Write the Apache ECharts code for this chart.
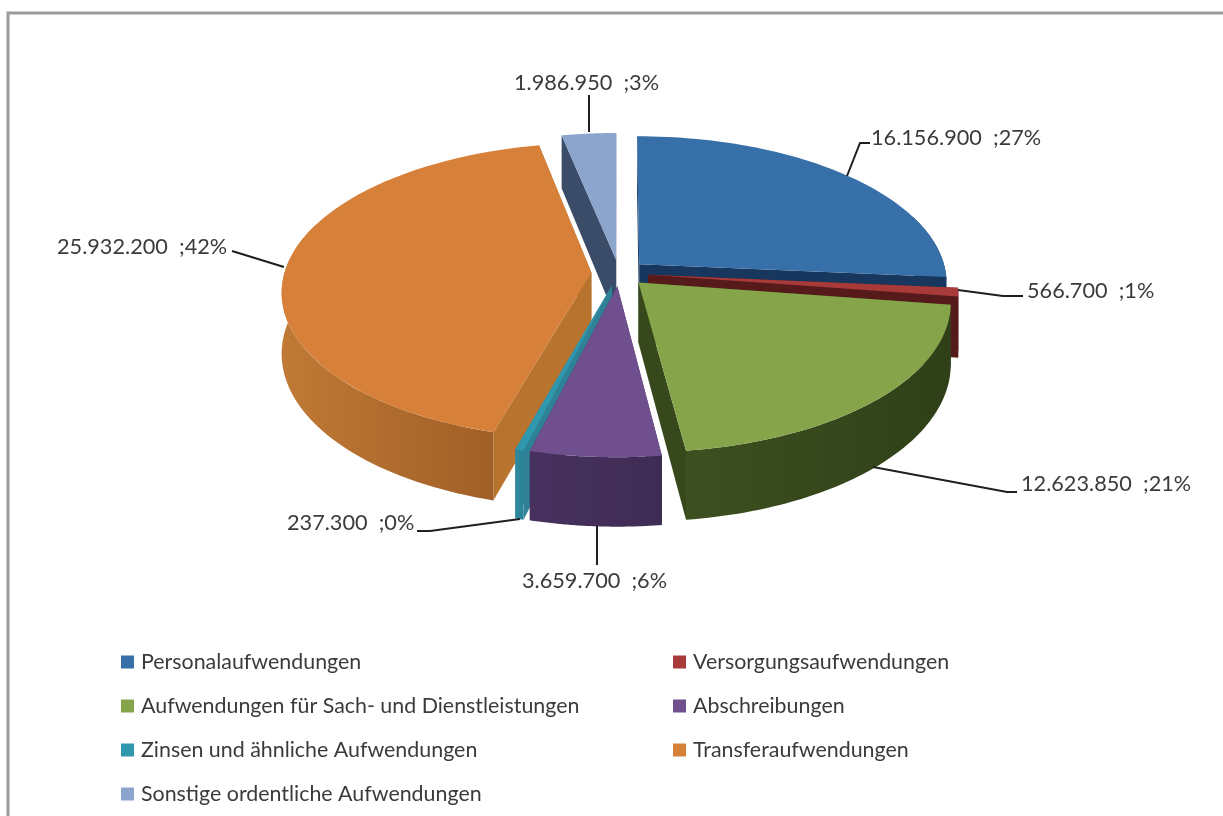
<!DOCTYPE html>
<html>
<head>
<meta charset="utf-8">
<title>Aufwendungen</title>
<style>
html, body { margin: 0; padding: 0; background: #fff; }
#main { width: 1223px; height: 816px; }
</style>
<script src="https://cdn.jsdelivr.net/npm/echarts@6/dist/echarts.min.js"></script>
</head>
<body>
<div id="main"></div>
<script>
// daten
var categories = ['Personalaufwendungen', 'Versorgungsaufwendungen', 'Aufwendungen für Sach- und Dienstleistungen',
  'Abschreibungen', 'Zinsen und ähnliche Aufwendungen', 'Transferaufwendungen', 'Sonstige ordentliche Aufwendungen'];
var values = [16156900, 566700, 12623850, 3659700, 237300, 25932200, 1986950];
var percents = [27, 1, 21, 6, 0, 42, 3];
var valueLabels = ['16.156.900', '566.700', '12.623.850', '3.659.700', '237.300', '25.932.200', '1.986.950'];

// farben: deckel, wand (links, rechts), seitenwand
var topColors = ['#376fa8', '#a83b39', '#86a54a', '#6f4f8e', '#2f97ae', '#d6803a', '#8ba5cd'];
var rimLeft = ['#17375e', '#5a1a1c', '#3d5020', '#47315f', '#2f8a9e', '#c07a36', '#364966'];
var rimRight = ['#17375e', '#5a1a1c', '#2f4018', '#3f2c55', '#2a8296', '#a05f26', '#364966'];
var sideColors = ['#17375e', '#561a1b', '#37491c', '#3f2c55', '#2f8196', '#b8732f', '#3a4c68'];

// perspektive der torte
var cx = 619, cy = 273, R0 = 307, Y0 = 146, D0 = 60, K = 0.125;
var explode = [0.09, 0.095, 0.09, 0.09, 0.09, 0.09, 0.09];
// zeichenreihenfolge von hinten nach vorne
var drawOrder = [6, 0, 1, 2, 5, 4, 3];

// beschriftung: text und fuehrungslinie
var labelPos = [[871, 138, 'left'], [1027, 291, 'left'], [1021, 484, 'left'], [522, 581, 'left'], [287, 523, 'left'], [57, 247, 'left'], [514, 83, 'left']];
var leaderLines = [
  [[847, 176], [860, 143], [870, 143]],
  [[958, 290], [1003, 296], [1023, 296]],
  [[873, 467], [1007, 492], [1017, 492]],
  [[597, 526], [597, 565]],
  [[520, 519], [430, 531], [417, 531]],
  [[284, 267], [232, 251]],
  [[589, 132], [589, 95]]
];

var total = values.reduce(function (a, b) { return a + b; }, 0);
var startAngles = [];
var sum = 0;
values.forEach(function (v) {
  startAngles.push(sum / total * Math.PI * 2);
  sum += v;
});

function project(a, b, h) {
  var s = 1 / (1 - K * b);
  return [cx + R0 * a * s, cy + Y0 * b * s + h * D0 * s];
}

function arcPoints(idx, from, to, h) {
  var pts = [];
  var mid = startAngles[idx] + values[idx] / total * Math.PI;
  var e = explode[idx];
  var n = 60;
  for (var i = 0; i <= n; i++) {
    var t = from + (to - from) * i / n;
    pts.push(project(e * Math.sin(mid) + Math.sin(t), -e * Math.cos(mid) - Math.cos(t), h));
  }
  return pts;
}

function apex(idx, h) {
  var mid = startAngles[idx] + values[idx] / total * Math.PI;
  return project(explode[idx] * Math.sin(mid), -explode[idx] * Math.cos(mid), h);
}

function sideWall(idx, angle) {
  var top = arcPoints(idx, angle, angle, 0)[0];
  var bottom = arcPoints(idx, angle, angle, 1)[0];
  return {
    type: 'polygon',
    shape: { points: [apex(idx, 0), top, bottom, apex(idx, 1)] },
    style: { fill: sideColors[idx] }
  };
}

function renderSlice(idx) {
  return function (params, api) {
    var from = startAngles[idx];
    var to = from + api.value(0) / total * Math.PI * 2;
    var children = [sideWall(idx, to), sideWall(idx, from)];

    // aussenwand nur im vorderen teil, etwas ueber die seiten hinaus wegen der perspektive
    var rimFrom = Math.max(from, Math.PI / 2 - 0.35);
    var rimTo = Math.min(to, Math.PI * 1.5 + 0.35);
    if (rimTo > rimFrom) {
      var upper = arcPoints(idx, rimFrom, rimTo, 0);
      var lower = arcPoints(idx, rimFrom, rimTo, 1).reverse();
      children.push({
        type: 'polygon',
        shape: { points: upper.concat(lower) },
        style: {
          fill: new echarts.graphic.LinearGradient(0, 0, 1, 0, [
            { offset: 0, color: rimLeft[idx] },
            { offset: 1, color: rimRight[idx] }
          ])
        }
      });
    }

    children.push({
      type: 'polygon',
      shape: { points: [apex(idx, 0)].concat(arcPoints(idx, from, to, 0)) },
      style: { fill: topColors[idx] }
    });

    children.push({
      type: 'polyline',
      shape: { points: leaderLines[idx] },
      style: { stroke: '#1f1f1f', lineWidth: 2, fill: null }
    });
    children.push({
      type: 'text',
      style: {
        text: valueLabels[idx] + '  ;' + percents[idx] + '%',
        x: labelPos[idx][0],
        y: labelPos[idx][1],
        align: labelPos[idx][2],
        verticalAlign: 'middle',
        fill: '#3b3b3b',
        font: '21.7px Lato'
      }
    });
    return { type: 'group', children: children };
  };
}

var series = drawOrder.map(function (idx) {
  return {
    name: categories[idx],
    type: 'custom',
    coordinateSystem: 'none',
    renderItem: renderSlice(idx),
    itemStyle: { color: topColors[idx] },
    silent: true,
    animation: false,
    data: [[values[idx]]]
  };
});

function legendColumn(names, left) {
  return {
    orient: 'vertical',
    left: left,
    top: 645,
    data: names,
    icon: 'rect',
    itemWidth: 13,
    itemHeight: 13,
    itemGap: 20,
    selectedMode: false,
    textStyle: { fontFamily: 'Lato', fontSize: 21.4, lineHeight: 24, color: '#3b3b3b', padding: [0, 0, 0, 2] }
  };
}

var chart = echarts.init(document.getElementById('main'));
chart.setOption({
  animation: false,
  backgroundColor: '#fff',
  graphic: [{
    type: 'rect',
    shape: { x: 8, y: 13, width: 1400, height: 1000 },
    style: { fill: '#fff', stroke: '#9b9b9b', lineWidth: 3 },
    silent: true,
    z: -10
  }],
  legend: [
    legendColumn([categories[0], categories[2], categories[4], categories[6]], 116),
    legendColumn([categories[1], categories[3], categories[5]], 668)
  ],
  series: series
});
</script>
</body>
</html>
